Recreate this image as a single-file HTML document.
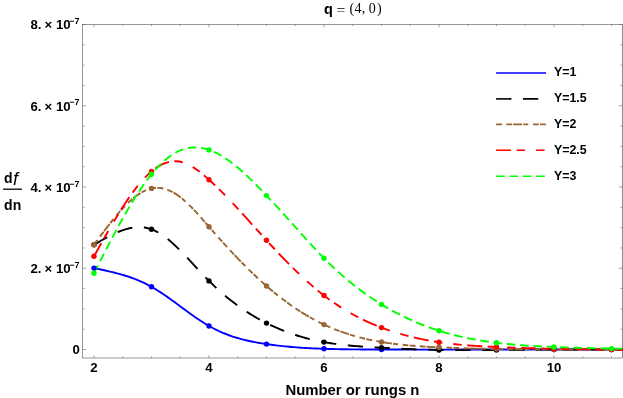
<!DOCTYPE html>
<html><head><meta charset="utf-8"><title>plot</title>
<style>
html,body{margin:0;padding:0;background:#fff;}
body{width:623px;height:398px;overflow:hidden;font-family:"Liberation Sans",sans-serif;}
svg{display:block;}
svg{will-change:transform;}
text{fill:#000;}
</style></head><body>
<svg width="623" height="398" viewBox="0 0 623 398">
<rect width="623" height="398" fill="#fff"/>
<g stroke="#666" stroke-width="0.66" fill="none">
<rect x="82.50" y="24.50" width="540.00" height="333.50"/>
<path d="M622.50 24.50 V358.00" stroke-width="0.2"/>
<path d="M94.00 358.00 v-2.70 M94.00 24.50 v2.70 M122.75 358.00 v-1.50 M122.75 24.50 v1.50 M151.50 358.00 v-1.50 M151.50 24.50 v1.50 M180.25 358.00 v-1.50 M180.25 24.50 v1.50 M209.00 358.00 v-2.70 M209.00 24.50 v2.70 M237.75 358.00 v-1.50 M237.75 24.50 v1.50 M266.50 358.00 v-1.50 M266.50 24.50 v1.50 M295.25 358.00 v-1.50 M295.25 24.50 v1.50 M324.00 358.00 v-2.70 M324.00 24.50 v2.70 M352.75 358.00 v-1.50 M352.75 24.50 v1.50 M381.50 358.00 v-1.50 M381.50 24.50 v1.50 M410.25 358.00 v-1.50 M410.25 24.50 v1.50 M439.00 358.00 v-2.70 M439.00 24.50 v2.70 M467.75 358.00 v-1.50 M467.75 24.50 v1.50 M496.50 358.00 v-1.50 M496.50 24.50 v1.50 M525.25 358.00 v-1.50 M525.25 24.50 v1.50 M554.00 358.00 v-2.70 M554.00 24.50 v2.70 M582.75 358.00 v-1.50 M582.75 24.50 v1.50 M611.50 358.00 v-1.50 M611.50 24.50 v1.50 M82.50 349.50 h3.60 M622.50 349.50 h-3.60 M82.50 329.19 h2.10 M622.50 329.19 h-2.10 M82.50 308.88 h2.10 M622.50 308.88 h-2.10 M82.50 288.56 h2.10 M622.50 288.56 h-2.10 M82.50 268.25 h3.60 M622.50 268.25 h-3.60 M82.50 247.94 h2.10 M622.50 247.94 h-2.10 M82.50 227.62 h2.10 M622.50 227.62 h-2.10 M82.50 207.31 h2.10 M622.50 207.31 h-2.10 M82.50 187.00 h3.60 M622.50 187.00 h-3.60 M82.50 166.69 h2.10 M622.50 166.69 h-2.10 M82.50 146.38 h2.10 M622.50 146.38 h-2.10 M82.50 126.06 h2.10 M622.50 126.06 h-2.10 M82.50 105.75 h3.60 M622.50 105.75 h-3.60 M82.50 85.44 h2.10 M622.50 85.44 h-2.10 M82.50 65.12 h2.10 M622.50 65.12 h-2.10 M82.50 44.81 h2.10 M622.50 44.81 h-2.10 M82.50 24.50 h3.60 M622.50 24.50 h-3.60" stroke-width="0.6"/>
</g>
<clipPath id="c"><rect x="82.50" y="24.50" width="541.00" height="333.50"/></clipPath>
<g fill="none" stroke-width="1.9" clip-path="url(#c)">
<path d="M94.00 268.10 L96.30 268.58 L98.60 269.06 L100.90 269.54 L103.20 270.04 L105.50 270.54 L107.80 271.06 L110.10 271.59 L112.40 272.14 L114.70 272.71 L117.00 273.31 L119.30 273.93 L121.60 274.58 L123.90 275.26 L126.20 275.97 L128.50 276.72 L130.80 277.51 L133.10 278.34 L135.40 279.22 L137.70 280.14 L140.00 281.11 L142.30 282.13 L144.60 283.21 L146.90 284.35 L149.20 285.54 L151.50 286.80 L153.80 288.12 L156.10 289.50 L158.40 290.94 L160.70 292.42 L163.00 293.95 L165.30 295.52 L167.60 297.13 L169.90 298.76 L172.20 300.42 L174.50 302.09 L176.80 303.78 L179.10 305.48 L181.40 307.18 L183.70 308.88 L186.00 310.57 L188.30 312.25 L190.60 313.92 L192.90 315.56 L195.20 317.17 L197.50 318.76 L199.80 320.30 L202.10 321.80 L204.40 323.26 L206.70 324.66 L209.00 326.00 L211.30 327.28 L213.60 328.50 L215.90 329.66 L218.20 330.76 L220.50 331.81 L222.80 332.81 L225.10 333.75 L227.40 334.64 L229.70 335.49 L232.00 336.29 L234.30 337.04 L236.60 337.76 L238.90 338.43 L241.20 339.07 L243.50 339.67 L245.80 340.23 L248.10 340.76 L250.40 341.27 L252.70 341.74 L255.00 342.19 L257.30 342.61 L259.60 343.01 L261.90 343.39 L264.20 343.76 L266.50 344.10 L268.80 344.43 L271.10 344.74 L273.40 345.04 L275.70 345.33 L278.00 345.61 L280.30 345.87 L282.60 346.11 L284.90 346.35 L287.20 346.57 L289.50 346.78 L291.80 346.98 L294.10 347.17 L296.40 347.35 L298.70 347.52 L301.00 347.68 L303.30 347.83 L305.60 347.97 L307.90 348.10 L310.20 348.22 L312.50 348.34 L314.80 348.44 L317.10 348.54 L319.40 348.63 L321.70 348.72 L324.00 348.80 L326.30 348.87 L328.60 348.94 L330.90 349.00 L333.20 349.06 L335.50 349.11 L337.80 349.16 L340.10 349.20 L342.40 349.24 L344.70 349.28 L347.00 349.31 L349.30 349.34 L351.60 349.36 L353.90 349.38 L356.20 349.40 L358.50 349.42 L360.80 349.43 L363.10 349.45 L365.40 349.46 L367.70 349.46 L370.00 349.47 L372.30 349.48 L374.60 349.48 L376.90 349.49 L379.20 349.50 L381.50 349.50 L383.80 349.51 L386.10 349.51 L388.40 349.52 L390.70 349.52 L393.00 349.53 L395.30 349.53 L397.60 349.54 L399.90 349.54 L402.20 349.55 L404.50 349.55 L406.80 349.56 L409.10 349.56 L411.40 349.57 L413.70 349.57 L416.00 349.58 L418.30 349.58 L420.60 349.59 L422.90 349.59 L425.20 349.59 L427.50 349.60 L429.80 349.60 L432.10 349.60 L434.40 349.60 L436.70 349.60 L439.00 349.60 L441.30 349.60 L443.60 349.60 L445.90 349.60 L448.20 349.59 L450.50 349.59 L452.80 349.59 L455.10 349.58 L457.40 349.58 L459.70 349.58 L462.00 349.57 L464.30 349.57 L466.60 349.56 L468.90 349.56 L471.20 349.55 L473.50 349.55 L475.80 349.54 L478.10 349.53 L480.40 349.53 L482.70 349.52 L485.00 349.52 L487.30 349.52 L489.60 349.51 L491.90 349.51 L494.20 349.50 L496.50 349.50 L498.80 349.50 L501.10 349.49 L503.40 349.49 L505.70 349.49 L508.00 349.49 L510.30 349.49 L512.60 349.49 L514.90 349.49 L517.20 349.49 L519.50 349.49 L521.80 349.49 L524.10 349.49 L526.40 349.49 L528.70 349.49 L531.00 349.49 L533.30 349.49 L535.60 349.49 L537.90 349.49 L540.20 349.49 L542.50 349.49 L544.80 349.50 L547.10 349.50 L549.40 349.50 L551.70 349.50 L554.00 349.50 L556.30 349.50 L558.60 349.50 L560.90 349.50 L563.20 349.50 L565.50 349.50 L567.80 349.50 L570.10 349.50 L572.40 349.50 L574.70 349.50 L577.00 349.50 L579.30 349.50 L581.60 349.50 L583.90 349.50 L586.20 349.50 L588.50 349.50 L590.80 349.50 L593.10 349.50 L595.40 349.50 L597.70 349.50 L600.00 349.50 L602.30 349.50 L604.60 349.50 L606.90 349.50 L609.20 349.50 L611.50 349.50 L613.80 349.50 L616.10 349.50 L618.40 349.50 L620.70 349.50 L623.00 349.50" stroke="#0000ff"/>
<path d="M94.00 244.80 L96.30 243.45 L98.60 242.11 L100.90 240.78 L103.20 239.47 L105.50 238.19 L107.80 236.95 L110.10 235.74 L112.40 234.59 L114.70 233.49 L117.00 232.46 L119.30 231.50 L121.60 230.61 L123.90 229.81 L126.20 229.10 L128.50 228.48 L130.80 227.98 L133.10 227.58 L135.40 227.30 L137.70 227.15 L140.00 227.14 L142.30 227.26 L144.60 227.53 L146.90 227.96 L149.20 228.54 L151.50 229.30 L153.80 230.23 L156.10 231.32 L158.40 232.57 L160.70 233.97 L163.00 235.51 L165.30 237.17 L167.60 238.96 L169.90 240.85 L172.20 242.85 L174.50 244.94 L176.80 247.11 L179.10 249.35 L181.40 251.66 L183.70 254.02 L186.00 256.42 L188.30 258.86 L190.60 261.33 L192.90 263.81 L195.20 266.31 L197.50 268.80 L199.80 271.28 L202.10 273.74 L204.40 276.17 L206.70 278.56 L209.00 280.90 L211.30 283.19 L213.60 285.42 L215.90 287.59 L218.20 289.71 L220.50 291.78 L222.80 293.79 L225.10 295.75 L227.40 297.66 L229.70 299.52 L232.00 301.32 L234.30 303.08 L236.60 304.80 L238.90 306.46 L241.20 308.08 L243.50 309.65 L245.80 311.18 L248.10 312.67 L250.40 314.11 L252.70 315.52 L255.00 316.88 L257.30 318.20 L259.60 319.48 L261.90 320.72 L264.20 321.93 L266.50 323.10 L268.80 324.23 L271.10 325.33 L273.40 326.40 L275.70 327.43 L278.00 328.43 L280.30 329.39 L282.60 330.32 L284.90 331.22 L287.20 332.09 L289.50 332.93 L291.80 333.74 L294.10 334.51 L296.40 335.26 L298.70 335.98 L301.00 336.67 L303.30 337.33 L305.60 337.96 L307.90 338.57 L310.20 339.15 L312.50 339.70 L314.80 340.23 L317.10 340.74 L319.40 341.21 L321.70 341.67 L324.00 342.10 L326.30 342.51 L328.60 342.89 L330.90 343.26 L333.20 343.60 L335.50 343.93 L337.80 344.23 L340.10 344.52 L342.40 344.79 L344.70 345.05 L347.00 345.29 L349.30 345.51 L351.60 345.73 L353.90 345.93 L356.20 346.12 L358.50 346.30 L360.80 346.47 L363.10 346.63 L365.40 346.78 L367.70 346.92 L370.00 347.06 L372.30 347.20 L374.60 347.33 L376.90 347.45 L379.20 347.58 L381.50 347.70 L383.80 347.82 L386.10 347.94 L388.40 348.06 L390.70 348.18 L393.00 348.30 L395.30 348.41 L397.60 348.53 L399.90 348.64 L402.20 348.74 L404.50 348.85 L406.80 348.95 L409.10 349.06 L411.40 349.15 L413.70 349.25 L416.00 349.34 L418.30 349.42 L420.60 349.51 L422.90 349.58 L425.20 349.66 L427.50 349.73 L429.80 349.79 L432.10 349.85 L434.40 349.91 L436.70 349.96 L439.00 350.00 L441.30 350.04 L443.60 350.07 L445.90 350.10 L448.20 350.12 L450.50 350.14 L452.80 350.15 L455.10 350.16 L457.40 350.16 L459.70 350.16 L462.00 350.16 L464.30 350.16 L466.60 350.15 L468.90 350.14 L471.20 350.12 L473.50 350.11 L475.80 350.09 L478.10 350.07 L480.40 350.05 L482.70 350.03 L485.00 350.01 L487.30 349.99 L489.60 349.96 L491.90 349.94 L494.20 349.92 L496.50 349.90 L498.80 349.88 L501.10 349.86 L503.40 349.84 L505.70 349.82 L508.00 349.81 L510.30 349.79 L512.60 349.78 L514.90 349.76 L517.20 349.75 L519.50 349.73 L521.80 349.72 L524.10 349.71 L526.40 349.70 L528.70 349.69 L531.00 349.68 L533.30 349.67 L535.60 349.66 L537.90 349.65 L540.20 349.64 L542.50 349.63 L544.80 349.63 L547.10 349.62 L549.40 349.61 L551.70 349.61 L554.00 349.60 L556.30 349.59 L558.60 349.59 L560.90 349.58 L563.20 349.58 L565.50 349.57 L567.80 349.57 L570.10 349.56 L572.40 349.56 L574.70 349.55 L577.00 349.55 L579.30 349.55 L581.60 349.54 L583.90 349.54 L586.20 349.53 L588.50 349.53 L590.80 349.53 L593.10 349.52 L595.40 349.52 L597.70 349.52 L600.00 349.51 L602.30 349.51 L604.60 349.51 L606.90 349.51 L609.20 349.50 L611.50 349.50 L613.80 349.50 L616.10 349.49 L618.40 349.49 L620.70 349.49 L623.00 349.49" stroke="#000000" stroke-dasharray="15.3 11.6"/>
<path d="M94.00 244.80 L96.30 241.67 L98.60 238.54 L100.90 235.43 L103.20 232.35 L105.50 229.30 L107.80 226.30 L110.10 223.34 L112.40 220.44 L114.70 217.61 L117.00 214.86 L119.30 212.19 L121.60 209.62 L123.90 207.14 L126.20 204.77 L128.50 202.53 L130.80 200.41 L133.10 198.42 L135.40 196.58 L137.70 194.89 L140.00 193.35 L142.30 191.99 L144.60 190.81 L146.90 189.81 L149.20 189.00 L151.50 188.40 L153.80 188.01 L156.10 187.82 L158.40 187.83 L160.70 188.04 L163.00 188.44 L165.30 189.03 L167.60 189.80 L169.90 190.75 L172.20 191.88 L174.50 193.17 L176.80 194.63 L179.10 196.24 L181.40 198.01 L183.70 199.92 L186.00 201.97 L188.30 204.14 L190.60 206.41 L192.90 208.77 L195.20 211.22 L197.50 213.73 L199.80 216.29 L202.10 218.89 L204.40 221.52 L206.70 224.16 L209.00 226.80 L211.30 229.43 L213.60 232.04 L215.90 234.64 L218.20 237.22 L220.50 239.79 L222.80 242.33 L225.10 244.86 L227.40 247.37 L229.70 249.85 L232.00 252.32 L234.30 254.76 L236.60 257.17 L238.90 259.56 L241.20 261.93 L243.50 264.27 L245.80 266.58 L248.10 268.87 L250.40 271.12 L252.70 273.34 L255.00 275.54 L257.30 277.70 L259.60 279.83 L261.90 281.92 L264.20 283.98 L266.50 286.00 L268.80 287.99 L271.10 289.94 L273.40 291.85 L275.70 293.72 L278.00 295.56 L280.30 297.36 L282.60 299.13 L284.90 300.86 L287.20 302.55 L289.50 304.20 L291.80 305.82 L294.10 307.40 L296.40 308.95 L298.70 310.45 L301.00 311.92 L303.30 313.36 L305.60 314.76 L307.90 316.11 L310.20 317.44 L312.50 318.72 L314.80 319.97 L317.10 321.19 L319.40 322.36 L321.70 323.50 L324.00 324.60 L326.30 325.66 L328.60 326.69 L330.90 327.69 L333.20 328.64 L335.50 329.57 L337.80 330.46 L340.10 331.32 L342.40 332.14 L344.70 332.94 L347.00 333.70 L349.30 334.44 L351.60 335.14 L353.90 335.82 L356.20 336.47 L358.50 337.09 L360.80 337.69 L363.10 338.26 L365.40 338.81 L367.70 339.33 L370.00 339.83 L372.30 340.30 L374.60 340.76 L376.90 341.19 L379.20 341.61 L381.50 342.00 L383.80 342.37 L386.10 342.73 L388.40 343.07 L390.70 343.39 L393.00 343.70 L395.30 343.98 L397.60 344.26 L399.90 344.52 L402.20 344.76 L404.50 345.00 L406.80 345.21 L409.10 345.42 L411.40 345.62 L413.70 345.80 L416.00 345.98 L418.30 346.14 L420.60 346.30 L422.90 346.45 L425.20 346.59 L427.50 346.72 L429.80 346.85 L432.10 346.97 L434.40 347.08 L436.70 347.19 L439.00 347.30 L441.30 347.40 L443.60 347.50 L445.90 347.60 L448.20 347.70 L450.50 347.79 L452.80 347.87 L455.10 347.96 L457.40 348.04 L459.70 348.12 L462.00 348.19 L464.30 348.27 L466.60 348.34 L468.90 348.40 L471.20 348.47 L473.50 348.53 L475.80 348.59 L478.10 348.64 L480.40 348.70 L482.70 348.75 L485.00 348.80 L487.30 348.84 L489.60 348.88 L491.90 348.93 L494.20 348.96 L496.50 349.00 L498.80 349.03 L501.10 349.07 L503.40 349.09 L505.70 349.12 L508.00 349.15 L510.30 349.17 L512.60 349.19 L514.90 349.21 L517.20 349.23 L519.50 349.25 L521.80 349.27 L524.10 349.28 L526.40 349.29 L528.70 349.31 L531.00 349.32 L533.30 349.33 L535.60 349.34 L537.90 349.35 L540.20 349.36 L542.50 349.36 L544.80 349.37 L547.10 349.38 L549.40 349.39 L551.70 349.39 L554.00 349.40 L556.30 349.41 L558.60 349.41 L560.90 349.42 L563.20 349.43 L565.50 349.44 L567.80 349.44 L570.10 349.45 L572.40 349.46 L574.70 349.47 L577.00 349.48 L579.30 349.48 L581.60 349.49 L583.90 349.50 L586.20 349.51 L588.50 349.52 L590.80 349.52 L593.10 349.53 L595.40 349.54 L597.70 349.55 L600.00 349.56 L602.30 349.57 L604.60 349.57 L606.90 349.58 L609.20 349.59 L611.50 349.60 L613.80 349.61 L616.10 349.62 L618.40 349.63 L620.70 349.63 L623.00 349.64" stroke="#996633" stroke-dasharray="6 4.2 5.8 1 9 1.2 5 4.7 5.7 1.3"/>
<path d="M94.00 256.30 L96.30 252.18 L98.60 248.06 L100.90 243.95 L103.20 239.87 L105.50 235.82 L107.80 231.80 L110.10 227.82 L112.40 223.89 L114.70 220.02 L117.00 216.21 L119.30 212.47 L121.60 208.80 L123.90 205.23 L126.20 201.74 L128.50 198.35 L130.80 195.07 L133.10 191.90 L135.40 188.84 L137.70 185.92 L140.00 183.12 L142.30 180.47 L144.60 177.96 L146.90 175.61 L149.20 173.42 L151.50 171.40 L153.80 169.55 L156.10 167.88 L158.40 166.39 L160.70 165.09 L163.00 163.97 L165.30 163.04 L167.60 162.30 L169.90 161.75 L172.20 161.40 L174.50 161.25 L176.80 161.30 L179.10 161.56 L181.40 162.02 L183.70 162.69 L186.00 163.54 L188.30 164.57 L190.60 165.77 L192.90 167.11 L195.20 168.60 L197.50 170.21 L199.80 171.93 L202.10 173.76 L204.40 175.67 L206.70 177.65 L209.00 179.70 L211.30 181.80 L213.60 183.94 L215.90 186.13 L218.20 188.36 L220.50 190.63 L222.80 192.93 L225.10 195.27 L227.40 197.64 L229.70 200.04 L232.00 202.47 L234.30 204.92 L236.60 207.39 L238.90 209.88 L241.20 212.38 L243.50 214.90 L245.80 217.43 L248.10 219.97 L250.40 222.52 L252.70 225.07 L255.00 227.62 L257.30 230.17 L259.60 232.71 L261.90 235.25 L264.20 237.78 L266.50 240.30 L268.80 242.81 L271.10 245.30 L273.40 247.77 L275.70 250.23 L278.00 252.66 L280.30 255.08 L282.60 257.48 L284.90 259.85 L287.20 262.20 L289.50 264.52 L291.80 266.82 L294.10 269.09 L296.40 271.33 L298.70 273.54 L301.00 275.72 L303.30 277.86 L305.60 279.98 L307.90 282.05 L310.20 284.09 L312.50 286.10 L314.80 288.06 L317.10 289.98 L319.40 291.87 L321.70 293.70 L324.00 295.50 L326.30 297.25 L328.60 298.96 L330.90 300.62 L333.20 302.24 L335.50 303.81 L337.80 305.35 L340.10 306.84 L342.40 308.29 L344.70 309.71 L347.00 311.08 L349.30 312.42 L351.60 313.72 L353.90 314.99 L356.20 316.22 L358.50 317.41 L360.80 318.57 L363.10 319.70 L365.40 320.79 L367.70 321.85 L370.00 322.89 L372.30 323.89 L374.60 324.86 L376.90 325.80 L379.20 326.71 L381.50 327.60 L383.80 328.46 L386.10 329.29 L388.40 330.10 L390.70 330.88 L393.00 331.64 L395.30 332.38 L397.60 333.08 L399.90 333.77 L402.20 334.43 L404.50 335.07 L406.80 335.69 L409.10 336.28 L411.40 336.86 L413.70 337.41 L416.00 337.94 L418.30 338.45 L420.60 338.94 L422.90 339.41 L425.20 339.86 L427.50 340.30 L429.80 340.71 L432.10 341.11 L434.40 341.49 L436.70 341.85 L439.00 342.20 L441.30 342.53 L443.60 342.84 L445.90 343.14 L448.20 343.43 L450.50 343.70 L452.80 343.96 L455.10 344.20 L457.40 344.43 L459.70 344.65 L462.00 344.86 L464.30 345.06 L466.60 345.25 L468.90 345.43 L471.20 345.60 L473.50 345.76 L475.80 345.91 L478.10 346.05 L480.40 346.19 L482.70 346.32 L485.00 346.45 L487.30 346.56 L489.60 346.68 L491.90 346.79 L494.20 346.90 L496.50 347.00 L498.80 347.10 L501.10 347.20 L503.40 347.29 L505.70 347.39 L508.00 347.48 L510.30 347.56 L512.60 347.65 L514.90 347.73 L517.20 347.81 L519.50 347.89 L521.80 347.96 L524.10 348.04 L526.40 348.11 L528.70 348.18 L531.00 348.24 L533.30 348.31 L535.60 348.37 L537.90 348.43 L540.20 348.49 L542.50 348.55 L544.80 348.60 L547.10 348.65 L549.40 348.70 L551.70 348.75 L554.00 348.80 L556.30 348.85 L558.60 348.89 L560.90 348.93 L563.20 348.97 L565.50 349.01 L567.80 349.05 L570.10 349.09 L572.40 349.12 L574.70 349.16 L577.00 349.19 L579.30 349.22 L581.60 349.25 L583.90 349.28 L586.20 349.31 L588.50 349.34 L590.80 349.37 L593.10 349.40 L595.40 349.42 L597.70 349.45 L600.00 349.47 L602.30 349.50 L604.60 349.53 L606.90 349.55 L609.20 349.58 L611.50 349.60 L613.80 349.62 L616.10 349.65 L618.40 349.67 L620.70 349.70 L623.00 349.73" stroke="#ff0000" stroke-dasharray="15 5.5 8.5 11 8.5 5.5"/>
<path d="M94.00 273.20 L96.30 268.68 L98.60 264.16 L100.90 259.65 L103.20 255.16 L105.50 250.69 L107.80 246.24 L110.10 241.83 L112.40 237.46 L114.70 233.14 L117.00 228.86 L119.30 224.63 L121.60 220.47 L123.90 216.37 L126.20 212.34 L128.50 208.39 L130.80 204.53 L133.10 200.74 L135.40 197.06 L137.70 193.47 L140.00 189.98 L142.30 186.60 L144.60 183.34 L146.90 180.20 L149.20 177.18 L151.50 174.30 L153.80 171.55 L156.10 168.94 L158.40 166.47 L160.70 164.15 L163.00 161.96 L165.30 159.93 L167.60 158.04 L169.90 156.30 L172.20 154.72 L174.50 153.29 L176.80 152.01 L179.10 150.89 L181.40 149.94 L183.70 149.14 L186.00 148.50 L188.30 148.01 L190.60 147.67 L192.90 147.48 L195.20 147.42 L197.50 147.51 L199.80 147.73 L202.10 148.08 L204.40 148.57 L206.70 149.17 L209.00 149.90 L211.30 150.75 L213.60 151.70 L215.90 152.77 L218.20 153.95 L220.50 155.22 L222.80 156.60 L225.10 158.06 L227.40 159.62 L229.70 161.26 L232.00 162.98 L234.30 164.77 L236.60 166.64 L238.90 168.58 L241.20 170.58 L243.50 172.64 L245.80 174.75 L248.10 176.92 L250.40 179.13 L252.70 181.39 L255.00 183.68 L257.30 186.02 L259.60 188.38 L261.90 190.76 L264.20 193.17 L266.50 195.60 L268.80 198.04 L271.10 200.50 L273.40 202.97 L275.70 205.45 L278.00 207.94 L280.30 210.44 L282.60 212.96 L284.90 215.48 L287.20 218.02 L289.50 220.56 L291.80 223.11 L294.10 225.67 L296.40 228.24 L298.70 230.81 L301.00 233.39 L303.30 235.96 L305.60 238.53 L307.90 241.08 L310.20 243.62 L312.50 246.14 L314.80 248.63 L317.10 251.10 L319.40 253.54 L321.70 255.94 L324.00 258.30 L326.30 260.62 L328.60 262.89 L330.90 265.12 L333.20 267.31 L335.50 269.46 L337.80 271.56 L340.10 273.63 L342.40 275.65 L344.70 277.63 L347.00 279.58 L349.30 281.48 L351.60 283.35 L353.90 285.18 L356.20 286.97 L358.50 288.73 L360.80 290.45 L363.10 292.14 L365.40 293.79 L367.70 295.40 L370.00 296.98 L372.30 298.53 L374.60 300.05 L376.90 301.53 L379.20 302.98 L381.50 304.40 L383.80 305.79 L386.10 307.15 L388.40 308.48 L390.70 309.78 L393.00 311.05 L395.30 312.29 L397.60 313.50 L399.90 314.68 L402.20 315.84 L404.50 316.96 L406.80 318.06 L409.10 319.13 L411.40 320.18 L413.70 321.20 L416.00 322.19 L418.30 323.15 L420.60 324.09 L422.90 325.00 L425.20 325.89 L427.50 326.75 L429.80 327.59 L432.10 328.40 L434.40 329.19 L436.70 329.96 L439.00 330.70 L441.30 331.42 L443.60 332.11 L445.90 332.79 L448.20 333.44 L450.50 334.07 L452.80 334.67 L455.10 335.26 L457.40 335.83 L459.70 336.38 L462.00 336.91 L464.30 337.41 L466.60 337.90 L468.90 338.38 L471.20 338.83 L473.50 339.27 L475.80 339.69 L478.10 340.10 L480.40 340.48 L482.70 340.86 L485.00 341.22 L487.30 341.56 L489.60 341.89 L491.90 342.21 L494.20 342.51 L496.50 342.80 L498.80 343.08 L501.10 343.34 L503.40 343.60 L505.70 343.84 L508.00 344.07 L510.30 344.29 L512.60 344.51 L514.90 344.71 L517.20 344.90 L519.50 345.08 L521.80 345.26 L524.10 345.43 L526.40 345.58 L528.70 345.73 L531.00 345.88 L533.30 346.01 L535.60 346.15 L537.90 346.27 L540.20 346.39 L542.50 346.50 L544.80 346.61 L547.10 346.71 L549.40 346.81 L551.70 346.91 L554.00 347.00 L556.30 347.09 L558.60 347.17 L560.90 347.26 L563.20 347.34 L565.50 347.41 L567.80 347.49 L570.10 347.56 L572.40 347.63 L574.70 347.70 L577.00 347.77 L579.30 347.83 L581.60 347.89 L583.90 347.95 L586.20 348.01 L588.50 348.07 L590.80 348.13 L593.10 348.18 L595.40 348.24 L597.70 348.29 L600.00 348.34 L602.30 348.40 L604.60 348.45 L606.90 348.50 L609.20 348.55 L611.50 348.60 L613.80 348.65 L616.10 348.70 L618.40 348.75 L620.70 348.80 L623.00 348.86" stroke="#00ff00" stroke-dasharray="8.7 4.65"/>
</g>
<g clip-path="url(#c)">
<circle cx="94.00" cy="268.10" r="2.7" fill="#0000ff"/>
<circle cx="151.50" cy="286.80" r="2.7" fill="#0000ff"/>
<circle cx="209.00" cy="326.00" r="2.7" fill="#0000ff"/>
<circle cx="266.50" cy="344.10" r="2.7" fill="#0000ff"/>
<circle cx="324.00" cy="348.80" r="2.7" fill="#0000ff"/>
<circle cx="381.50" cy="349.50" r="2.7" fill="#0000ff"/>
<circle cx="439.00" cy="349.60" r="2.7" fill="#0000ff"/>
<circle cx="496.50" cy="349.50" r="2.7" fill="#0000ff"/>
<circle cx="554.00" cy="349.50" r="2.7" fill="#0000ff"/>
<circle cx="611.50" cy="349.50" r="2.7" fill="#0000ff"/>
<circle cx="94.00" cy="244.80" r="2.7" fill="#000000"/>
<circle cx="151.50" cy="229.30" r="2.7" fill="#000000"/>
<circle cx="209.00" cy="280.90" r="2.7" fill="#000000"/>
<circle cx="266.50" cy="323.10" r="2.7" fill="#000000"/>
<circle cx="324.00" cy="342.10" r="2.7" fill="#000000"/>
<circle cx="381.50" cy="347.70" r="2.7" fill="#000000"/>
<circle cx="439.00" cy="350.00" r="2.7" fill="#000000"/>
<circle cx="496.50" cy="349.90" r="2.7" fill="#000000"/>
<circle cx="554.00" cy="349.60" r="2.7" fill="#000000"/>
<circle cx="611.50" cy="349.50" r="2.7" fill="#000000"/>
<circle cx="94.00" cy="244.80" r="2.7" fill="#996633"/>
<circle cx="151.50" cy="188.40" r="2.7" fill="#996633"/>
<circle cx="209.00" cy="226.80" r="2.7" fill="#996633"/>
<circle cx="266.50" cy="286.00" r="2.7" fill="#996633"/>
<circle cx="324.00" cy="324.60" r="2.7" fill="#996633"/>
<circle cx="381.50" cy="342.00" r="2.7" fill="#996633"/>
<circle cx="439.00" cy="347.30" r="2.7" fill="#996633"/>
<circle cx="496.50" cy="349.00" r="2.7" fill="#996633"/>
<circle cx="554.00" cy="349.40" r="2.7" fill="#996633"/>
<circle cx="611.50" cy="349.60" r="2.7" fill="#996633"/>
<circle cx="94.00" cy="256.30" r="2.7" fill="#ff0000"/>
<circle cx="151.50" cy="171.40" r="2.7" fill="#ff0000"/>
<circle cx="209.00" cy="179.70" r="2.7" fill="#ff0000"/>
<circle cx="266.50" cy="240.30" r="2.7" fill="#ff0000"/>
<circle cx="324.00" cy="295.50" r="2.7" fill="#ff0000"/>
<circle cx="381.50" cy="327.60" r="2.7" fill="#ff0000"/>
<circle cx="439.00" cy="342.20" r="2.7" fill="#ff0000"/>
<circle cx="496.50" cy="347.00" r="2.7" fill="#ff0000"/>
<circle cx="554.00" cy="348.80" r="2.7" fill="#ff0000"/>
<circle cx="611.50" cy="349.60" r="2.7" fill="#ff0000"/>
<circle cx="94.00" cy="273.20" r="2.7" fill="#00ff00"/>
<circle cx="151.50" cy="174.30" r="2.7" fill="#00ff00"/>
<circle cx="209.00" cy="149.90" r="2.7" fill="#00ff00"/>
<circle cx="266.50" cy="195.60" r="2.7" fill="#00ff00"/>
<circle cx="324.00" cy="258.30" r="2.7" fill="#00ff00"/>
<circle cx="381.50" cy="304.40" r="2.7" fill="#00ff00"/>
<circle cx="439.00" cy="330.70" r="2.7" fill="#00ff00"/>
<circle cx="496.50" cy="342.80" r="2.7" fill="#00ff00"/>
<circle cx="554.00" cy="347.00" r="2.7" fill="#00ff00"/>
<circle cx="611.50" cy="348.60" r="2.7" fill="#00ff00"/>
</g>
<g fill="none" stroke-width="1.6">
<path d="M496.10 73.00 H546.00" stroke="#0000ff"/>
<path d="M496.10 98.90 H546.00" stroke="#000000" stroke-dasharray="15.3 11.6"/>
<path d="M496.10 124.40 H546.00" stroke="#996633" stroke-dasharray="6 4.2 5.8 1 9 1.2 5 4.7 5.7 1.3"/>
<path d="M496.10 150.30 H546.00" stroke="#ff0000" stroke-dasharray="15 5.5 8.5 11 8.5 5.5"/>
<path d="M496.10 176.20 H546.00" stroke="#00ff00" stroke-dasharray="8.7 4.65"/>
</g>
<path d="M3.1 189.2 H22" stroke="#000" stroke-width="1.3"/>
<text x="553.90" y="75.90" font-size="12.40" text-anchor="start" font-weight="bold" font-family="'Liberation Sans'" >Y=1</text>
<text x="553.90" y="101.80" font-size="12.40" text-anchor="start" font-weight="bold" font-family="'Liberation Sans'" >Y=1.5</text>
<text x="553.90" y="127.80" font-size="12.40" text-anchor="start" font-weight="bold" font-family="'Liberation Sans'" >Y=2</text>
<text x="553.90" y="153.70" font-size="12.40" text-anchor="start" font-weight="bold" font-family="'Liberation Sans'" >Y=2.5</text>
<text x="553.90" y="179.60" font-size="12.40" text-anchor="start" font-weight="bold" font-family="'Liberation Sans'" >Y=3</text>
<text x="30.50" y="29.40" font-size="13.20" text-anchor="start" font-weight="bold" font-family="'Liberation Sans'" >8.</text>
<text x="44.40" y="29.40" font-size="13.20" text-anchor="start" font-weight="bold" font-family="'Liberation Sans'" >×</text>
<text x="55.90" y="29.40" font-size="13.20" text-anchor="start" font-weight="bold" font-family="'Liberation Sans'" >10</text>
<text x="69.20" y="24.10" font-size="9.00" text-anchor="start" font-weight="bold" font-family="'Liberation Sans'" >−7</text>
<text x="30.50" y="110.65" font-size="13.20" text-anchor="start" font-weight="bold" font-family="'Liberation Sans'" >6.</text>
<text x="44.40" y="110.65" font-size="13.20" text-anchor="start" font-weight="bold" font-family="'Liberation Sans'" >×</text>
<text x="55.90" y="110.65" font-size="13.20" text-anchor="start" font-weight="bold" font-family="'Liberation Sans'" >10</text>
<text x="69.20" y="105.35" font-size="9.00" text-anchor="start" font-weight="bold" font-family="'Liberation Sans'" >−7</text>
<text x="30.50" y="191.90" font-size="13.20" text-anchor="start" font-weight="bold" font-family="'Liberation Sans'" >4.</text>
<text x="44.40" y="191.90" font-size="13.20" text-anchor="start" font-weight="bold" font-family="'Liberation Sans'" >×</text>
<text x="55.90" y="191.90" font-size="13.20" text-anchor="start" font-weight="bold" font-family="'Liberation Sans'" >10</text>
<text x="69.20" y="186.60" font-size="9.00" text-anchor="start" font-weight="bold" font-family="'Liberation Sans'" >−7</text>
<text x="30.50" y="273.15" font-size="13.20" text-anchor="start" font-weight="bold" font-family="'Liberation Sans'" >2.</text>
<text x="44.40" y="273.15" font-size="13.20" text-anchor="start" font-weight="bold" font-family="'Liberation Sans'" >×</text>
<text x="55.90" y="273.15" font-size="13.20" text-anchor="start" font-weight="bold" font-family="'Liberation Sans'" >10</text>
<text x="69.20" y="267.85" font-size="9.00" text-anchor="start" font-weight="bold" font-family="'Liberation Sans'" >−7</text>
<text x="79.90" y="354.10" font-size="13.20" text-anchor="end" font-weight="bold" font-family="'Liberation Sans'" >0</text>
<text x="94.00" y="372.40" font-size="13.20" text-anchor="middle" font-weight="bold" font-family="'Liberation Sans'" >2</text>
<text x="209.00" y="372.40" font-size="13.20" text-anchor="middle" font-weight="bold" font-family="'Liberation Sans'" >4</text>
<text x="324.00" y="372.40" font-size="13.20" text-anchor="middle" font-weight="bold" font-family="'Liberation Sans'" >6</text>
<text x="439.00" y="372.40" font-size="13.20" text-anchor="middle" font-weight="bold" font-family="'Liberation Sans'" >8</text>
<text x="554.00" y="372.40" font-size="13.20" text-anchor="middle" font-weight="bold" font-family="'Liberation Sans'" >10</text>
<text x="352.40" y="394.90" font-size="14.90" text-anchor="middle" font-weight="bold" font-family="'Liberation Sans'" >Number or rungs n</text>
<text x="4.00" y="182.80" font-size="14.00" text-anchor="start" font-weight="bold" font-family="'Liberation Sans'" >d</text>
<text x="13.00" y="185.00" font-size="18.00" text-anchor="start" font-weight="normal" font-family="'Liberation Sans'" font-style="italic">f</text>
<text x="4.00" y="209.60" font-size="14.00" text-anchor="start" font-weight="bold" font-family="'Liberation Sans'" letter-spacing="0.3">dn</text>
<text x="324.00" y="14.00" font-size="14.50" text-anchor="start" font-weight="bold" font-family="'Liberation Sans'" >q</text>
<text x="336.50" y="15.20" font-size="15.60" text-anchor="start" font-weight="normal" font-family="'Liberation Serif'" >=</text>
<text x="349.40" y="13.40" font-size="14.00" text-anchor="start" font-weight="normal" font-family="'Liberation Serif'" letter-spacing="0.35">(4,</text>
<text x="368.70" y="13.40" font-size="14.00" text-anchor="start" font-weight="normal" font-family="'Liberation Serif'" >0</text>
<text x="377.10" y="13.40" font-size="14.00" text-anchor="start" font-weight="normal" font-family="'Liberation Serif'" >)</text>
</svg>
</body></html>
